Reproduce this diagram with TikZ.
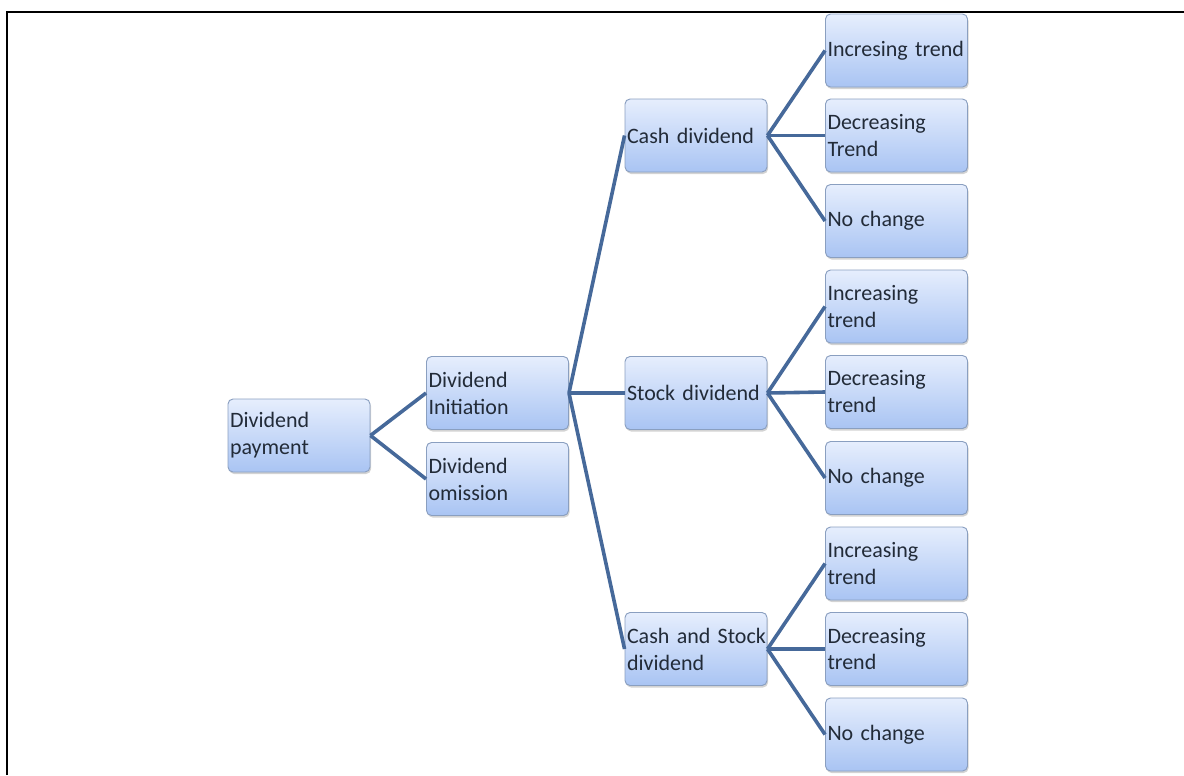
\documentclass[tikz,border=0pt]{standalone}
\usepackage{fontspec}
\setmainfont{Carlito}[WordSpace=0.7]
\usetikzlibrary{shadows}
\definecolor{boxtop}{HTML}{E6EEFD}
\definecolor{boxbot}{HTML}{A9C4F3}
\definecolor{boxline}{HTML}{8A9FC0}
\definecolor{linkc}{HTML}{46699A}
\definecolor{txt}{HTML}{222B38}
\tikzset{
  box/.style={rectangle, rounded corners=3.75pt, draw=boxline, line width=0.7pt,
    top color=boxtop, bottom color=boxbot,
    minimum width=106.5pt, minimum height=54.75pt,
    text width=103.5pt, inner xsep=1.5pt, inner ysep=0pt, align=left,
    font=\fontsize{16.5}{20.25}\selectfont, text=txt,
    drop shadow={opacity=0.35, shadow xshift=0.8pt, shadow yshift=-1.5pt}},
  link/.style={draw=linkc, line width=2.7pt},
  frameline/.style={draw=black, line width=1.5pt}
}
\begin{document}
\begin{tikzpicture}[x=0.75pt, y=-0.75pt]
\useasboundingbox (0,0) rectangle (1184,775);
\draw[frameline] (7,775) -- (7,12) -- (1184,12);

% level 1 and 2
\node[box] (pay) at (299,435.5) {Dividend\\payment};
\node[box] (ini) at (497.5,393) {Dividend\\Initiation};
\node[box] (omi) at (497.5,479) {Dividend\\omission};

% level 3
\node[box] (cash)  at (696,135.5) {\mbox{Cash dividend}};
\node[box] (stock) at (696,393) {\mbox{Stock dividend}};
\node[box] (both)  at (696,649) {\mbox{Cash and Stock}\\dividend};

% level 4
\node[box] (c1) at (896.5,50.5)  {\mbox{Incresing trend}};
\node[box] (c2) at (896.5,135.5) {Decreasing\\Trend};
\node[box] (c3) at (896.5,221)   {\mbox{No change}};
\node[box] (s1) at (896.5,306.5) {Increasing\\trend};
\node[box] (s2) at (896.5,392)   {Decreasing\\trend};
\node[box] (s3) at (896.5,478)   {\mbox{No change}};
\node[box] (b1) at (896.5,563.5) {Increasing\\trend};
\node[box] (b2) at (896.5,649)   {Decreasing\\trend};
\node[box] (b3) at (896.5,734.5) {\mbox{No change}};

% connectors
\draw[link] (pay.east) -- (ini.west);
\draw[link] (pay.east) -- (omi.west);
\foreach \t in {cash,stock,both} \draw[link] (ini.east) -- (\t.west);
\foreach \t in {c1,c2,c3} \draw[link] (cash.east) -- (\t.west);
\foreach \t in {s1,s2,s3} \draw[link] (stock.east) -- (\t.west);
\foreach \t in {b1,b2,b3} \draw[link] (both.east) -- (\t.west);
\end{tikzpicture}
\end{document}
